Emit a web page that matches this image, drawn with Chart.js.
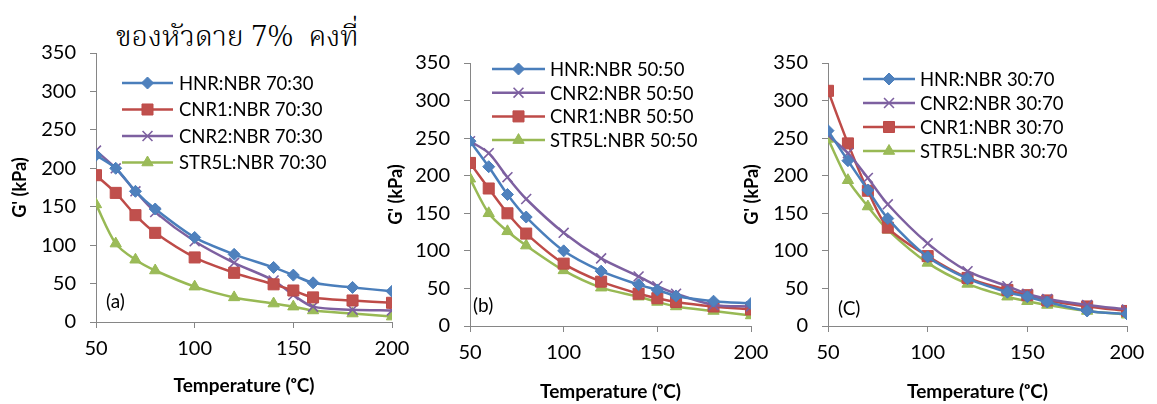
<!DOCTYPE html>
<html>
<head>
<meta charset="utf-8">
<script src="https://cdn.jsdelivr.net/npm/chart.js@4.4.0/dist/chart.umd.min.js"></script>
<style>
html, body { margin: 0; padding: 0; background: #fff; }
#wrap { position: relative; width: 1157px; height: 404px; overflow: hidden; }
.panel { position: absolute; top: 0; height: 404px; }
#title { position: absolute; left: 116px; top: 15px; font-family: 'Noto Serif Thai', 'Tlwg Typo', 'Norasi', serif; font-size: 29px; font-weight: 300; color: #000; white-space: pre; }
</style>
</head>
<body>
<div id="wrap">
  <div id="title">ของหัวดาย 7%  คงที่</div>
  <div class="panel" style="left:0;width:410px"><canvas id="chartA" width="410" height="404"></canvas></div>
  <div class="panel" style="left:376px;width:395px"><canvas id="chartB" width="395" height="404"></canvas></div>
  <div class="panel" style="left:732px;width:425px"><canvas id="chartC" width="425" height="404"></canvas></div>
</div>
<script>
// temperatures (°C) shared by all three panels
const temps = [50, 60, 70, 80, 100, 120, 140, 150, 160, 180, 200];
const yMin = 0, yMax = 350, yStep = 50;
const xMin = 50, xMax = 200, xStep = 50;

// (a) 70:30
const labelsA = ['HNR:NBR 70:30', 'CNR1:NBR 70:30', 'CNR2:NBR 70:30', 'STR5L:NBR 70:30'];
const hnrA   = [217, 200, 170, 147, 110, 88, 71, 61, 51, 45, 40];
const cnr1A  = [191, 168, 139, 116, 84, 64, 49, 41, 32, 28, 25];
const cnr2A  = [223, 200, 170, 143, 105, 77, 54, 35, 20, 16, 15];
const str5lA = [153, 102, 81, 67, 46, 32, 24, 20, 15, 11, 7];

// (b) 50:50
const labelsB = ['HNR:NBR 50:50', 'CNR2:NBR 50:50', 'CNR1:NBR 50:50', 'STR5L:NBR 50:50'];
const hnrB   = [246, 212, 175, 145, 100, 73, 55, 48, 40, 33, 30];
const cnr2B  = [246, 230, 198, 169, 124, 90, 66, 53, 43, 28, 26];
const cnr1B  = [217, 183, 150, 123, 83, 59, 43, 37, 32, 26, 22];
const str5lB = [196, 150, 126, 107, 74, 51, 39, 32, 26, 20, 14];

// (c) 30:70
const labelsC = ['HNR:NBR 30:70', 'CNR2:NBR 30:70', 'CNR1:NBR 30:70', 'STR5L:NBR 30:70'];
const hnrC   = [260, 220, 181, 143, 92, 63, 45, 39, 32, 20, 16];
const cnr2C  = [254, 230, 197, 162, 110, 73, 53, 43, 36, 28, 22];
const cnr1C  = [313, 243, 180, 131, 93, 64, 48, 41, 34, 26, 20];
const str5lC = [249, 194, 159, 128, 84, 56, 39, 33, 28, 20, 15];

const look = {
    HNR:   { line: '#4A7EBB', fill: '#4F81BD', point: 'rectRot',  r: 6,   bw: 1 },
    CNR1:  { line: '#BE4B48', fill: '#C0504D', point: 'rect',     r: 7.8, bw: 1 },
    CNR2:  { line: '#7D60A0', fill: '#7D60A0', point: 'crossRot', r: 7,   bw: 1.6 },
    STR5L: { line: '#98B954', fill: '#9BBB59', point: 'triangle', r: 6.5, bw: 1 }
};

const AXIS = '#868686';
const FONT = 'Lato';

function makeSet(label, values) {
    const st = look[label.split(':')[0]];
    return {
        label,
        data: temps.map((t, i) => ({ x: t, y: values[i] })),
        borderColor: st.line,
        backgroundColor: st.fill,
        borderWidth: 2.5,
        tension: 0.3,
        pointStyle: st.point,
        pointRadius: st.r,
        pointHoverRadius: st.r,
        pointBackgroundColor: st.fill,
        pointBorderColor: st.line,
        pointBorderWidth: st.bw
    };
}

// legend with line + marker, and the panel tag
const sideLegend = {
    id: 'sideLegend',
    afterDatasetsDraw(chart, args, o) {
        const ctx = chart.ctx;
        ctx.save();
        chart.data.datasets.forEach((ds, i) => {
            const y = o.y + i * o.gap;
            ctx.strokeStyle = ds.borderColor;
            ctx.lineWidth = ds.borderWidth;
            ctx.beginPath();
            ctx.moveTo(o.x, y);
            ctx.lineTo(o.x + o.len, y);
            ctx.stroke();
            ctx.fillStyle = ds.pointBackgroundColor;
            ctx.strokeStyle = ds.pointBorderColor;
            ctx.lineWidth = ds.pointBorderWidth;
            Chart.helpers.drawPoint(ctx, { pointStyle: ds.pointStyle, radius: ds.pointRadius, rotation: 0, borderWidth: ds.pointBorderWidth }, o.x + o.len / 2, y);
            ctx.fillStyle = '#000';
            ctx.font = '18.5px ' + FONT;
            ctx.textBaseline = 'middle';
            ctx.textAlign = 'left';
            ctx.fillText(ds.label, o.tx, y + 1);
        });
        ctx.fillStyle = '#000';
        ctx.font = '19px ' + FONT;
        ctx.textBaseline = 'middle';
        ctx.fillText(o.tag, o.tagX, o.tagY);
        ctx.restore();
    }
};

function build(id, sets, p) {
    return new Chart(document.getElementById(id), {
        type: 'line',
        data: { datasets: sets },
        plugins: [sideLegend],
        options: {
            responsive: false,
            animation: false,
            layout: { padding: { top: p.top, right: p.right, left: 0, bottom: 0 } },
            plugins: {
                legend: { display: false },
                tooltip: { enabled: false },
                sideLegend: p.legend
            },
            scales: {
                x: {
                    type: 'linear', min: xMin, max: xMax,
                    afterFit: s => { s.height = p.xh; s.paddingLeft = 0; s.paddingRight = 0; },
                    ticks: { stepSize: xStep, color: '#000', font: { family: FONT, size: 20 }, padding: 9 },
                    grid: { drawOnChartArea: false, color: AXIS, tickLength: 6 },
                    border: { color: AXIS, width: 1 },
                    title: { display: true, text: 'Temperature (ᵒC)', color: '#000', font: { family: FONT, size: 19, weight: 'bold' }, padding: { top: 0, bottom: p.titlePad } }
                },
                y: {
                    min: yMin, max: yMax,
                    afterFit: s => { s.width = p.yw; },
                    ticks: { stepSize: yStep, color: '#000', font: { family: FONT, size: 20 }, padding: 14 },
                    grid: { drawOnChartArea: false, color: AXIS, tickLength: 6 },
                    border: { color: AXIS, width: 1 },
                    title: { display: true, text: "G' (kPa)", color: '#000', font: { family: FONT, size: 18, weight: 'bold' }, padding: { top: 9, bottom: 0 } }
                }
            }
        }
    });
}

build('chartA', [
    makeSet(labelsA[0], hnrA), makeSet(labelsA[1], cnr1A),
    makeSet(labelsA[2], cnr2A), makeSet(labelsA[3], str5lA)
], { top: 53, right: 18, yw: 96, xh: 82, titlePad: 7,
     legend: { x: 122, len: 51, tx: 179, y: 83, gap: 26.5, tag: '(a)', tagX: 106, tagY: 302 } });

build('chartB', [
    makeSet(labelsB[0], hnrB), makeSet(labelsB[1], cnr2B),
    makeSet(labelsB[2], cnr1B), makeSet(labelsB[3], str5lB)
], { top: 63, right: 20, yw: 94, xh: 78, titlePad: 1,
     legend: { x: 116, len: 53, tx: 174, y: 69, gap: 23.7, tag: '(b)', tagX: 97, tagY: 306 } });

build('chartC', [
    makeSet(labelsC[0], hnrC), makeSet(labelsC[1], cnr2C),
    makeSet(labelsC[2], cnr1C), makeSet(labelsC[3], str5lC)
], { top: 63, right: 30, yw: 96, xh: 78, titlePad: 1,
     legend: { x: 131, len: 52, tx: 188, y: 79, gap: 24, tag: '(C)', tagX: 106, tagY: 309 } });
</script>
</body>
</html>
